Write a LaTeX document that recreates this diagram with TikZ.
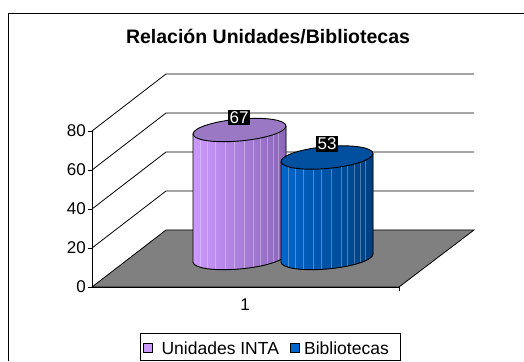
\documentclass[tikz,border=0pt]{standalone}
\usepackage{fontspec}
\setmainfont{Liberation Sans}
\usetikzlibrary{positioning}

\definecolor{lila}{HTML}{CC99FF}
\definecolor{lilaoscuro}{HTML}{8A66B8}
\definecolor{lilatapa}{HTML}{9A78C4}
\definecolor{azul}{HTML}{0066CC}
\definecolor{azuloscuro}{HTML}{003F80}
\definecolor{azultapa}{HTML}{00509F}
\definecolor{piso}{HTML}{808080}

% cilindro: centro x, radio, y tapa, y base, color izq, color der, color tapa
\newcommand{\cilindro}[7]{%
  \begin{scope}[shift={(#1,0)},cm={1,0.086,0,1,(0,0)}]
    \fill[left color=#5,right color=#6] (-#2,#3) -- (-#2,#4)
      arc[start angle=180,end angle=360,x radius=#2,y radius=11] -- (#2,#3) -- cycle;
    \foreach \f in {-0.85,-0.7,-0.52,-0.3,-0.12,0.1,0.3,0.45,0.6,0.72,0.84}
      \draw[white,opacity=0.3,line width=0.6pt] ({\f*#2},{#4-11*sqrt(1-\f*\f)}) -- ({\f*#2},#3);
    \draw[line width=0.9pt] (-#2,#3) -- (-#2,#4)
      arc[start angle=180,end angle=360,x radius=#2,y radius=11] -- (#2,#3);
    \filldraw[fill=#7,line width=0.9pt] (0,#3) ellipse[x radius=#2,y radius=11];
  \end{scope}}

\begin{document}
\begin{tikzpicture}[x=1pt,y=1pt,
    eje/.style={black,line width=0.8pt},
    numero/.style={anchor=east,inner sep=0pt,font=\fontsize{17}{19}\selectfont},
    valor/.style={fill=black,text=white,inner sep=1.5pt,font=\fontsize{17}{19}\selectfont},
    cuadro/.style={draw=black,line width=0.8pt,minimum size=9pt,inner sep=0pt},
    leyenda/.style={inner sep=0pt,anchor=west,font=\fontsize{17.5}{19}\selectfont}]
  \useasboundingbox (0,0) rectangle (524,361);
  % marco
  \draw[line width=0.8pt] (8,0) -- (8,348) -- (524,348);
  \node[font=\bfseries\fontsize{19.5}{22}\selectfont] (titulo) at (268,324) {Relación Unidades/Bibliotecas};
  % pared del fondo
  \foreach \v in {20,40,60,80}
    \draw[eje] (92,{74+1.95*\v}) -- (166,{131+1.95*\v}) -- (474,{131+1.95*\v});
  % piso
  \filldraw[fill=piso,draw=black,line width=0.8pt] (92,74) -- (399,74) -- (474,131) -- (166,131) -- cycle;
  % ejes
  \draw[eje] (92,74) -- (92,230);
  \draw[eje] (92,74) -- (399,74) -- (399,70);
  \foreach \v in {0,20,...,80} {
    \draw[eje] (88,{74+1.95*\v}) -- (92,{74+1.95*\v});
    \node[numero] (n\v) at (86,{74+1.95*\v}) {\v};
  }
  \node[font=\fontsize{17}{19}\selectfont] (uno) at (245,56) {1};
  % barras
  \cilindro{239.5}{46.5}{231}{103}{lila}{lilaoscuro}{lilatapa}
  \cilindro{327}{46}{203.5}{103}{azul}{azuloscuro}{azultapa}
  \node[valor] (v67) at (239,243.5) {67};
  \node[valor] (v53) at (327,217) {53};
  % leyenda
  \draw[line width=0.8pt] (140,1) rectangle (400,28);
  \node[cuadro,fill=lila] (cuadroA) at (147.5,13) {};
  \node[leyenda,right=9pt of cuadroA] (textoA) {Unidades INTA};
  \node[cuadro,fill=azul,right=11pt of textoA] (cuadroB) {};
  \node[leyenda,right=4pt of cuadroB] (textoB) {Bibliotecas};
\end{tikzpicture}
\end{document}
